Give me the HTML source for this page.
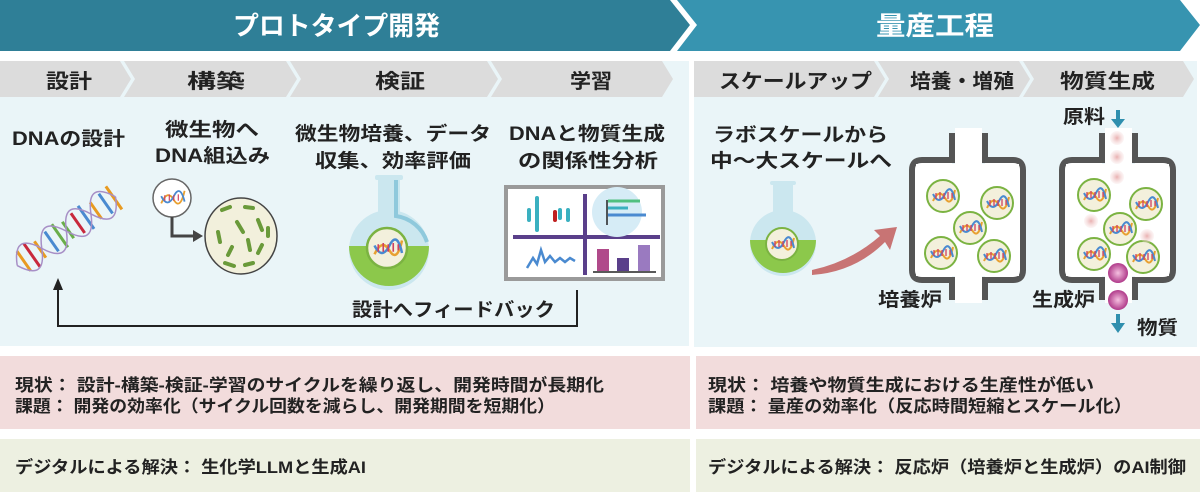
<!DOCTYPE html>
<html><head><meta charset="utf-8"><style>
html,body{margin:0;padding:0;background:#fff;}
svg{display:block;}
text{font-family:"Liberation Sans","Noto Sans CJK JP",sans-serif;font-weight:bold;fill:#222;}
</style></head><body>
<svg width="1200" height="492" viewBox="0 0 1200 492" xmlns="http://www.w3.org/2000/svg">
<defs>
<g id="cell">
<circle r="16" fill="#f3f0dc" stroke="#7bb342" stroke-width="2"/>
<path d="M-10 5 Q-4 -8 2 2 T12 -6" stroke="#e8a030" stroke-width="2" fill="none"/>
<path d="M-10 -2 Q-4 10 2 -2 T12 4" stroke="#4a8ad0" stroke-width="2" fill="none"/>
<path d="M-7 -3v6M-3 -4v7M1 -3v6M5 -4v7M9 -3v5" stroke="#d04060" stroke-width="1.3"/>
</g>
<radialGradient id="pk"><stop offset="0" stop-color="#f5c0e0"/><stop offset="1" stop-color="#b03a8a"/></radialGradient>
<radialGradient id="lp"><stop offset="0" stop-color="#e9b0b0"/><stop offset="1" stop-color="#f6dede" stop-opacity="0.3"/></radialGradient>
</defs>

<polygon points="0,0 670,0 690,25 670,51 0,51" fill="#2f7f97"/>
<polygon points="677,0 1180,0 1200,25 1180,51 677,51 697,25" fill="#3794b0"/>
<text x="233" y="35" font-size="26" style="fill:#fff" textLength="207" lengthAdjust="spacingAndGlyphs">プロトタイプ開発</text>
<text x="876" y="35" font-size="26" style="fill:#fff" textLength="118" lengthAdjust="spacingAndGlyphs">量産工程</text>

<rect x="0" y="61" width="689" height="285" fill="#eaf5f8"/>
<rect x="694" y="61" width="503" height="286" fill="#eaf5f8"/>

<g fill="#dcdcdc">
<polygon points="0,61 120,61 131,79 120,97 0,97"/>
<polygon points="124,61 286,61 297,79 286,97 124,97 135,79"/>
<polygon points="290,61 487,61 498,79 487,97 290,97 301,79"/>
<polygon points="491,61 662,61 673,79 662,97 491,97 502,79"/>
<polygon points="694,61 874,61 885,79 874,97 694,97"/>
<polygon points="878,61 1019,61 1030,79 1019,97 878,97 889,79"/>
<polygon points="1023,61 1183,61 1194,79 1183,97 1023,97 1034,79"/>
</g>
<g font-size="20" lengthAdjust="spacingAndGlyphs">
<text x="46" y="88" textLength="46" lengthAdjust="spacingAndGlyphs">設計</text>
<text x="187" y="88" textLength="58" lengthAdjust="spacingAndGlyphs">構築</text>
<text x="375" y="88" textLength="50" lengthAdjust="spacingAndGlyphs">検証</text>
<text x="570" y="88" textLength="42" lengthAdjust="spacingAndGlyphs">学習</text>
<text x="719" y="88" textLength="153" lengthAdjust="spacingAndGlyphs">スケールアップ</text>
<text x="910" y="88" textLength="104" lengthAdjust="spacingAndGlyphs">培養・増殖</text>
<text x="1060" y="88" textLength="95" lengthAdjust="spacingAndGlyphs">物質生成</text>
</g>

<g font-size="19">
<text x="12" y="145" textLength="113" lengthAdjust="spacingAndGlyphs">DNAの設計</text>
<text x="165" y="136" textLength="94" lengthAdjust="spacingAndGlyphs">微生物へ</text>
<text x="155" y="162" textLength="115" lengthAdjust="spacingAndGlyphs">DNA組込み</text>
<text x="295" y="140" textLength="196" lengthAdjust="spacingAndGlyphs">微生物培養、データ</text>
<text x="315" y="167" textLength="156" lengthAdjust="spacingAndGlyphs">収集、効率評価</text>
<text x="509" y="140" textLength="156" lengthAdjust="spacingAndGlyphs">DNAと物質生成</text>
<text x="518" y="167" textLength="140" lengthAdjust="spacingAndGlyphs">の関係性分析</text>
<text x="713" y="141" textLength="175" lengthAdjust="spacingAndGlyphs">ラボスケールから</text>
<text x="710" y="167" textLength="182" lengthAdjust="spacingAndGlyphs">中～大スケールへ</text>
<text x="352" y="316" textLength="203" lengthAdjust="spacingAndGlyphs">設計へフィードバック</text>
<text x="878" y="306" textLength="64" lengthAdjust="spacingAndGlyphs">培養炉</text>
<text x="1032" y="306" textLength="63" lengthAdjust="spacingAndGlyphs">生成炉</text>
<text x="1063" y="123" textLength="42" lengthAdjust="spacingAndGlyphs">原料</text>
<text x="1137" y="334" textLength="41" lengthAdjust="spacingAndGlyphs">物質</text>
</g>

<path d="M577 290 V326 H58 V287" stroke="#222" stroke-width="2" fill="none"/>
<polygon points="58,278 53,290 63,290" fill="#222"/>

<!-- DNA helix -->
<g transform="translate(68,230) rotate(-35)">
<g stroke-width="3">
<path d="M-54 -12 v24" stroke="#e89a20"/><path d="M-44 -14 v28" stroke="#c8283c"/>
<path d="M-34 -10 v20" stroke="#e89a20"/><path d="M-20 -12 v24" stroke="#4a8ad0"/>
<path d="M-10 -14 v28" stroke="#6aae4a"/><path d="M0 -10 v20" stroke="#6aae4a"/>
<path d="M12 -12 v24" stroke="#c8283c"/><path d="M22 -14 v28" stroke="#4a8ad0"/>
<path d="M34 -10 v20" stroke="#e89a20"/><path d="M46 -12 v24" stroke="#4a8ad0"/>
<path d="M56 -14 v28" stroke="#e89a20"/>
</g>
<path d="M-62 0 Q-47 -30 -32 0 T-2 0 T28 0 T58 0" stroke="#a78fc6" stroke-width="1.5" fill="none"/>
<path d="M-62 0 Q-47 30 -32 0 T-2 0 T28 0 T58 0" stroke="#a78fc6" stroke-width="1.5" fill="none"/>
</g>

<circle cx="172" cy="198" r="19" fill="#fff" stroke="#666" stroke-width="1.5"/>
<g transform="translate(172,198) scale(0.9)"><path d="M-12 6 Q-5 -10 2 2 T14 -8" stroke="#e8a030" stroke-width="2" fill="none"/><path d="M-12 -2 Q-5 12 2 -2 T14 4" stroke="#4a8ad0" stroke-width="2" fill="none"/><path d="M-8 -3v6M-3 -4v7M2 -3v6M7 -4v7" stroke="#d04060" stroke-width="1.3"/></g>
<path d="M172 217 V236 H195" stroke="#444" stroke-width="3" fill="none"/>
<polygon points="203,236 193,230 193,242" fill="#444"/>
<ellipse cx="241" cy="236" rx="36" ry="38" fill="#f2f0dc" stroke="#444" stroke-width="1.5"/>
<g stroke="#6a9a3a" stroke-width="4" stroke-linecap="round">
<path d="M222 210 l8 -3 M245 207 l8 1 M218 232 l2 10 M237 222 l6 10 M258 220 l4 10 M232 247 l-4 8 M248 240 l2 10 M262 245 l-4 8 M225 263 l9 3 M245 265 l8 -2 M268 228 l0 8"/>
</g>

<!-- flask left -->
<rect x="378" y="177" width="22" height="45" fill="#cbe7ef"/>
<rect x="375" y="175" width="28" height="5" rx="2" fill="#cbe7ef"/>
<circle cx="389" cy="250" r="40" fill="#cbe7ef"/>
<path d="M349 246 h80 a40 40 0 0 1 -80 0 z" fill="#8cc84b"/>
<path d="M396 180 v36 a38 38 0 0 1 31 26" stroke="#8fc9dc" stroke-width="4" fill="none"/>
<g transform="translate(387,248) scale(1.25)"><use href="#cell"/></g>

<rect x="504" y="185" width="161" height="96" fill="#9a9a9a"/>
<rect x="508" y="189" width="153" height="88" fill="#fff"/>
<line x1="513" y1="237" x2="660" y2="237" stroke="#5a3f8a" stroke-width="4"/>
<line x1="585" y1="194" x2="585" y2="275" stroke="#5a3f8a" stroke-width="4"/>
<g stroke="#3ab0c0" stroke-width="4" stroke-linecap="round"><path d="M529 210v10M537 198v32M560 210v8M568 210v10"/></g>
<path d="M555 212v8" stroke="#c02020" stroke-width="4" stroke-linecap="round"/>
<circle cx="617" cy="212" r="25" fill="#d6ecf6"/>
<path d="M607 200v25" stroke="#222" stroke-width="1.5"/>
<path d="M608 201h32" stroke="#50c080" stroke-width="3"/>
<path d="M608 208h20" stroke="#3ab0c0" stroke-width="3"/>
<path d="M608 215h38" stroke="#4a8ad0" stroke-width="3"/>
<path d="M527 268 l6 -10 4 6 4 -14 4 12 5 -6 5 6 5 -4 5 4 5 -4 5 3" stroke="#4a8ad0" stroke-width="2.5" fill="none"/>
<rect x="597" y="249" width="12" height="22" fill="#b04a8a"/>
<rect x="617" y="258" width="12" height="13" fill="#5a3f8a"/>
<rect x="638" y="245" width="12" height="26" fill="#9a7ac0"/>
<line x1="593" y1="272" x2="656" y2="272" stroke="#222" stroke-width="1.5"/>

<!-- flask right -->
<rect x="773" y="183" width="20" height="35" fill="#cbe7ef"/>
<rect x="770" y="181" width="26" height="4" rx="2" fill="#cbe7ef"/>
<circle cx="783" cy="243" r="33" fill="#cbe7ef"/>
<path d="M750 240 h66 a33 33 0 0 1 -66 0 z" fill="#8cc84b"/>
<g transform="translate(782,244)"><use href="#cell"/></g>
<path d="M812 270 Q850 262 880 236 L874 230 L897 227 L890 250 L885 242 Q855 272 812 275 z" fill="#c87474"/>

<!-- reactor 1 -->
<path d="M952 133 V160 H922 Q912 160 912 170 V270 Q912 280 922 280 H952 V300 M985 133 V160 H1013 Q1023 160 1023 170 V270 Q1023 280 1013 280 H985 V300" stroke="#555" stroke-width="6" fill="#fff"/>
<rect x="955" y="128" width="27" height="175" fill="#fff"/>
<rect x="916" y="164" width="103" height="112" fill="#fff"/>
<use href="#cell" x="943" y="196"/>
<use href="#cell" x="997" y="203"/>
<use href="#cell" x="970" y="228"/>
<use href="#cell" x="941" y="253"/>
<use href="#cell" x="994" y="256"/>

<!-- reactor 2 -->
<path d="M1102 133 V160 H1072 Q1062 160 1062 170 V270 Q1062 280 1072 280 H1102 V300 M1135 133 V160 H1163 Q1173 160 1173 170 V270 Q1173 280 1163 280 H1135 V300" stroke="#555" stroke-width="6" fill="#fff"/>
<rect x="1105" y="128" width="27" height="175" fill="#fff"/>
<rect x="1066" y="164" width="103" height="112" fill="#fff"/>
<use href="#cell" x="1094" y="195"/>
<use href="#cell" x="1146" y="204"/>
<use href="#cell" x="1120" y="229"/>
<use href="#cell" x="1094" y="254"/>
<use href="#cell" x="1143" y="257"/>
<g fill="url(#lp)"><circle cx="1117" cy="138" r="7"/><circle cx="1117" cy="157" r="7"/><circle cx="1117" cy="177" r="7"/><circle cx="1091" cy="221" r="7"/><circle cx="1147" cy="236" r="7"/></g>
<circle cx="1118" cy="273" r="10" fill="url(#pk)"/>
<circle cx="1118" cy="300" r="10" fill="url(#pk)"/>
<path d="M1118 110 v10" stroke="#2f8fae" stroke-width="4"/><polygon points="1111,119 1125,119 1118,128" fill="#2f8fae"/>
<path d="M1118 314 v10" stroke="#2f8fae" stroke-width="4"/><polygon points="1111,323 1125,323 1118,333" fill="#2f8fae"/>

<rect x="0" y="356" width="690" height="73" fill="#f2dcdc"/>
<rect x="696" y="356" width="504" height="73" fill="#f2dcdc"/>
<rect x="0" y="439" width="690" height="53" fill="#edf0e1"/>
<rect x="696" y="439" width="504" height="53" fill="#edf0e1"/>
<g font-size="17" style="font-weight:normal">
<text x="15" y="391" textLength="589" lengthAdjust="spacingAndGlyphs">現状：  設計-構築-検証-学習のサイクルを繰り返し、開発時間が長期化</text>
<text x="15" y="412" textLength="540" lengthAdjust="spacingAndGlyphs">課題：  開発の効率化（サイクル回数を減らし、開発期間を短期化）</text>
<text x="708" y="391" textLength="386" lengthAdjust="spacingAndGlyphs">現状：  培養や物質生成における生産性が低い</text>
<text x="708" y="412" textLength="424" lengthAdjust="spacingAndGlyphs">課題：  量産の効率化（反応時間短縮とスケール化）</text>
<text x="15" y="473" textLength="351" lengthAdjust="spacingAndGlyphs">デジタルによる解決：  生化学LLMと生成AI</text>
<text x="708" y="473" textLength="478" lengthAdjust="spacingAndGlyphs">デジタルによる解決：  反応炉（培養炉と生成炉）のAI制御</text>
</g>
</svg>
</body></html>
